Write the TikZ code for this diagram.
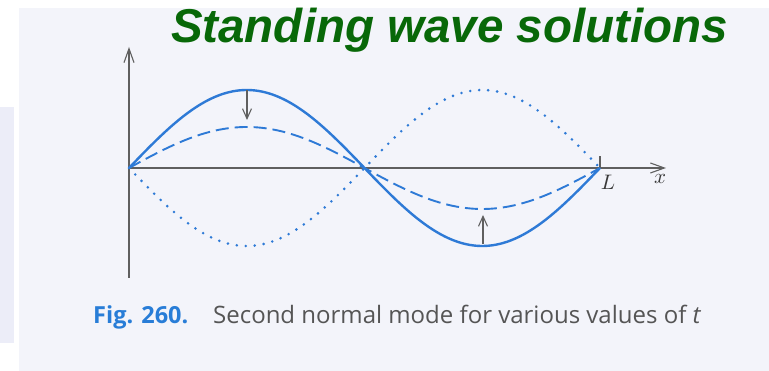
\documentclass[tikz,border=0pt]{standalone}
\usepackage{fontspec}
\setmainfont{Liberation Sans}
\setsansfont{Open Sans}
\usetikzlibrary{arrows.meta}

\definecolor{slidegreen}{RGB}{8,104,8}
\definecolor{waveblue}{RGB}{46,122,214}
\definecolor{figblue}{RGB}{40,125,215}
\definecolor{axisgrey}{RGB}{95,95,95}
\definecolor{captiongrey}{RGB}{85,85,85}
\definecolor{paper}{RGB}{243,244,250}
\definecolor{sidebox}{RGB}{236,237,248}

\tikzset{
  wave/.style={waveblue, line width=2.4pt},
  axisline/.style={axisgrey, line width=1.1pt},
  motion/.style={axisgrey, line width=1.1pt, -{Straight Barb[length=10pt,width=9pt]}},
  axisarrow/.style={-{Straight Barb[length=14pt,width=10pt]}},
  axislabel/.style={scale=2.1, transform shape, text=axisgrey!60!black}
}

\begin{document}
\begin{tikzpicture}[x=1pt, y=1pt]
  \useasboundingbox (0,0) rectangle (769,371);
  \fill[paper] (0,0) rectangle (769,363);
  \fill[white] (0,363) rectangle (769,371);
  \fill[white] (0,0) rectangle (19,371);
  \fill[sidebox] (0,28) rectangle (14,264);

  \node (title) [anchor=base, inner sep=0, text=slidegreen,
    font=\fontsize{47.5}{47.5}\selectfont\bfseries\itshape] at (449.5,328) {Standing wave solutions};

  \begin{scope}[shift={(129,203)}]
  % axes
  \coordinate (o) at (0,0);
  \coordinate (ytop) at (0,121);
  \coordinate (ybot) at (0,-110);
  \coordinate (xend) at (537,0);
  \coordinate (Lpt) at (471,0);
  \coordinate (Ltick) at (471,12);
  \draw[axisline, axisarrow] (ybot) -- (ytop);
  \draw[axisline, axisarrow] (o) -- (xend);
  \draw[axisline] (Lpt) -- (Ltick);
  % the mode at three instants
  \draw[wave] plot[domain=0:471, samples=150] (\x, {78*sin(\x/471*360)});
  \draw[wave, line width=1.9pt, dash pattern=on 13pt off 6pt]
    plot[domain=0:471, samples=150] (\x, {41*sin(\x/471*360)});
  \draw[wave, line width=2.9pt, line cap=round, dash pattern=on 0pt off 9pt]
    plot[domain=0:471, samples=150] (\x, {-78*sin(\x/471*360)});
  % direction of motion
  \coordinate (upperA) at (118,78);
  \coordinate (upperB) at (118,48);
  \coordinate (lowerA) at (354,-76);
  \coordinate (lowerB) at (354,-47);
  \draw[motion] (upperA) -- (upperB);
  \draw[motion] (lowerA) -- (lowerB);
  \node (labL) [axislabel] at (479,-14) {$L$};
  \node (labx) [axislabel] at (531,-11) {$x$};
  \end{scope}

  \node (fignum) [anchor=base west, inner sep=0, text=figblue,
    font=\sffamily\bfseries\fontsize{23.5}{23.5}\selectfont] at (93,47) {Fig. 260.};
  \node (figtext) [anchor=base west, inner sep=0, text=captiongrey,
    font=\sffamily\fontsize{24}{24}\selectfont] at (213,47) {Second normal mode for various values of \textit{t}};
\end{tikzpicture}
\end{document}
